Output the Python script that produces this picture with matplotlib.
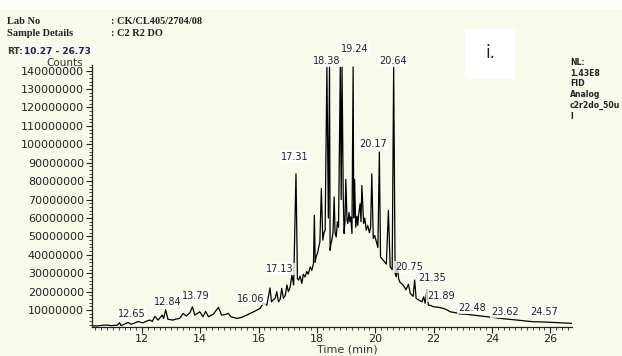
import matplotlib
matplotlib.use("Agg")
import matplotlib.pyplot as plt
from matplotlib.patches import Rectangle
from matplotlib.ticker import MultipleLocator, FuncFormatter

# chromatogram trace (time in min, counts in millions)
times = [10.27, 10.46, 10.6, 10.8, 10.95, 11.15, 11.23, 11.28, 11.4, 11.52,
         11.63, 11.75, 11.86, 12.03, 12.15, 12.26, 12.35, 12.44, 12.55, 12.69,
         12.74, 12.81, 12.89, 13.06, 13.18, 13.29, 13.41, 13.52, 13.64, 13.73,
         13.81, 13.98, 14.09, 14.18, 14.28, 14.45, 14.62, 14.73, 14.85, 14.96,
         15.05, 15.25, 15.4, 15.59, 15.75, 15.94, 16.05, 16.16, 16.28, 16.39,
         16.44, 16.5, 16.57, 16.62, 16.68, 16.74, 16.79, 16.85, 16.91, 16.97,
         17.02, 17.08, 17.14, 17.2, 17.28, 17.33, 17.37, 17.42, 17.48, 17.53,
         17.59, 17.65, 17.7, 17.77, 17.82, 17.88, 17.91, 17.94, 17.97, 18.02,
         18.06, 18.1, 18.15, 18.2, 18.24, 18.28, 18.34, 18.39, 18.43, 18.45,
         18.48, 18.51, 18.55, 18.59, 18.62, 18.66, 18.7, 18.74, 18.8, 18.83,
         18.86, 18.9, 18.93, 18.96, 18.99, 19.03, 19.06, 19.1, 19.13, 19.16,
         19.2, 19.24, 19.26, 19.29, 19.33, 19.37, 19.4, 19.43, 19.48, 19.51,
         19.54, 19.6, 19.64, 19.69, 19.74, 19.8, 19.84, 19.88, 19.93, 19.98,
         20.04, 20.09, 20.14, 20.18, 20.25, 20.32, 20.38, 20.45, 20.51, 20.58,
         20.63, 20.68, 20.72, 20.76, 20.8, 20.85, 20.93, 21.0, 21.05, 21.14,
         21.2, 21.3, 21.35, 21.4, 21.5, 21.6, 21.66, 21.71, 21.77, 21.82,
         21.9, 22.0, 22.15, 22.34, 22.45, 22.57, 22.75, 22.91, 23.1, 23.37,
         23.6, 23.83, 24.05, 24.29, 24.55, 24.86, 25.15, 25.43, 25.7, 26.0,
         26.35, 26.73]
counts = [1.5, 1.4, 1.7, 1.9, 1.6, 1.8, 3.2, 1.6, 2.4, 3.3,
          2.3, 3.0, 3.8, 3.1, 4.0, 4.6, 3.9, 6.6, 4.6, 7.3,
          5.5, 10.2, 5.0, 4.6, 5.2, 5.5, 8.2, 6.8, 8.6, 11.8,
          7.3, 9.1, 6.4, 9.3, 6.4, 7.9, 11.5, 7.3, 7.6, 8.2,
          6.4, 5.5, 6.0, 7.3, 8.5, 10.0, 11.0, 13.7, 12.7, 22.0,
          14.5, 15.6, 16.4, 20.0, 14.5, 16.0, 21.8, 16.4, 18.0, 23.6,
          20.0, 22.5, 29.0, 23.6, 84.0, 27.0, 26.3, 28.5, 24.5, 29.5,
          28.0, 31.0, 29.5, 33.5, 31.5, 35.3, 61.5, 36.0, 38.9, 41.0,
          44.3, 47.0, 76.0, 48.0, 52.0, 53.4, 142.0, 60.0, 142.0, 42.5,
          46.0, 48.0, 52.0, 71.4, 52.0, 49.7, 58.0, 55.0, 142.0, 70.0,
          142.0, 73.0, 51.6, 58.0, 81.0, 59.0, 57.0, 63.0, 58.0, 60.6,
          51.6, 142.0, 60.0, 81.0, 55.0, 61.0, 56.0, 62.0, 67.8, 58.0,
          77.7, 57.0, 60.0, 53.4, 56.0, 52.0, 55.0, 84.0, 48.9, 50.5,
          47.0, 44.0, 95.8, 38.9, 37.5, 36.2, 35.0, 64.2, 33.5, 32.0,
          142.0, 30.0, 28.0, 35.3, 27.0, 25.0, 24.0, 22.6, 21.0, 24.0,
          19.0, 17.5, 26.3, 16.4, 15.4, 14.5, 17.2, 13.7, 20.9, 12.7,
          12.5, 11.8, 11.6, 10.9, 10.2, 9.1, 8.6, 7.9, 7.8, 7.3,
          6.9, 6.4, 6.0, 5.5, 5.1, 4.6, 4.1, 3.7, 3.6, 3.4,
          3.1, 2.8]

# peak labels as printed on the chart, with where they sit
peak_labels = ["12.65", "12.84", "13.79", "16.06", "17.13", "17.31", "18.38", "19.24",
               "20.64", "20.17", "20.75", "21.35", "21.89", "22.48", "23.62", "24.57"]
label_x = [11.64, 12.89, 13.85, 15.74, 16.74, 17.25, 18.35, 19.31,
           20.61, 19.93, 21.16, 21.95, 22.26, 23.32, 24.44, 25.81]
label_y = [7.8, 14.3, 17.6, 16.0, 32.3, 93.0, 145.0, 152.0,
           145.0, 100.0, 33.4, 27.4, 17.6, 11.1, 8.9, 8.9]

header_keys = ["Lab No", "Sample Details"]
header_vals = [": CK/CL405/2704/08", ": C2 R2 DO"]
side_info = ["NL:", "1.43E8", "FID", "Analog", "c2r2do_50u", "l"]

BG = "#f9faea"
W, H = 622, 356


def fx(px: float) -> float:
    return px / W


def fy(py: float) -> float:
    return 1 - py / H


fig = plt.figure(figsize=(W / 100, H / 100), dpi=100, facecolor=BG)
fig.patches.append(Rectangle((0, fy(9)), 1, 1, transform=fig.transFigure,
                             facecolor="white", edgecolor="none", zorder=0))

ax = fig.add_axes([fx(91.6), fy(326.7), fx(571.5) - fx(91.6), fy(65.1) - fy(326.7)])
ax.set_facecolor("none")
ax.plot(times, [c * 1e6 for c in counts], color="black", lw=0.9)
ax.set_xlim(10.27, 26.73)
ax.set_ylim(1e6, 143e6)

for s in ["top", "right"]:
    ax.spines[s].set_visible(False)
for s in ["left", "bottom"]:
    ax.spines[s].set_linewidth(0.9)
    ax.spines[s].set_color("#222222")

ax.yaxis.set_major_locator(MultipleLocator(10e6))
ax.yaxis.set_minor_locator(MultipleLocator(2e6))
ax.yaxis.set_major_formatter(FuncFormatter(lambda v, p: f"{int(round(v))}" if v > 5e6 else ""))
ax.xaxis.set_major_locator(MultipleLocator(2))
ax.xaxis.set_minor_locator(MultipleLocator(0.2))
ax.tick_params(which="major", direction="out", length=4, width=0.8, labelsize=8,
               colors="#222222", pad=1.5)
ax.tick_params(which="minor", direction="out", length=2.5, width=0.6, colors="#222222")

for txt, x, y in zip(peak_labels, label_x, label_y):
    ax.text(x, y * 1e6, txt, ha="center", va="center", fontsize=7, color="#222222",
            clip_on=False, bbox=dict(facecolor="white", edgecolor="none", alpha=0.75, pad=0.6))

serif = dict(family="Liberation Serif", fontweight="bold", fontsize=7.5, color="#222222")
for i, (k, v) in enumerate(zip(header_keys, header_vals)):
    fig.text(fx(7), fy(21.5 + 12 * i), k, va="center", **serif)
    fig.text(fx(111), fy(21.5 + 12 * i), v, va="center", **serif)

fig.text(fx(7), fy(51.5), "RT:", va="center", fontsize=6.5, fontweight="bold", color="#333333")
fig.text(fx(24), fy(51.5), "10.27 - 26.73", va="center", fontsize=6.5, fontweight="bold",
         color="#1c1c5a")
fig.text(fx(65), fy(63), "Counts", ha="center", va="center", fontsize=7.5, color="#333333")

fig.patches.append(Rectangle((fx(465), fy(79)), fx(515) - fx(465), fy(29) - fy(79),
                             transform=fig.transFigure, facecolor="white", edgecolor="none"))
fig.text(fx(490), fy(53), "i.", ha="center", va="center", fontsize=12, color="#222222")

fig.text(fx(570), fy(58), "\n".join(side_info), va="top", fontsize=5.6, fontweight="bold",
         color="#222222", linespacing=1.25)

fig.text(fx(347), fy(350), "Time (min)", ha="center", va="center", fontsize=8, color="#333333")

fig.savefig("out.png", dpi=100, facecolor=BG)
